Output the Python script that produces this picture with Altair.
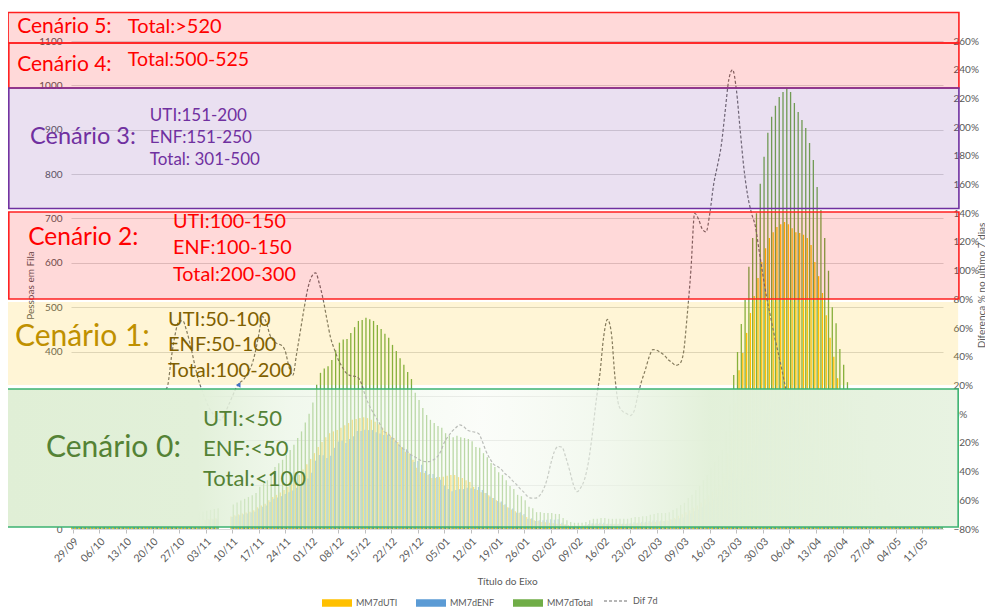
import json
import altair as alt
import pandas as pd

# ---------------- data ----------------
N_DAYS = 230  # 29/09/2020 .. 16/05/2021, one category per day

week_labels = ['29/09', '06/10', '13/10', '20/10', '27/10', '03/11', '10/11', '17/11',
               '24/11', '01/12', '08/12', '15/12', '22/12', '29/12', '05/01', '12/01',
               '19/01', '26/01', '02/02', '09/02', '16/02', '23/02', '02/03', '09/03',
               '16/03', '23/03', '30/03', '06/04', '13/04', '20/04', '27/04', '04/05', '11/05']
week_ticks = [7 * i for i in range(len(week_labels))]

N = None
mm7d_total = [
    12, 12, 13, 13, 14, 14, 15, 15, 16, 16,
    17, 17, 18, 18, 19, 19, 20, 21, 21, 22,
    22, 23, 24, 25, 26, 27, 28, 29, 30, 31,
    32, 34, 35, 37, 39, 41, 43, 45, 47, N,
    N, N, 55, 60, 64, 68, 72, 76, 81, 95,
    103, 110, 126, 140, 148, 156, 167, 178, 190, 205,
    220, 240, 260, 285, 325, 352, 362, 367, 381, 403,
    420, 427, 428, 442, 455, 469, 471, 476, 473, 469,
    460, 451, 440, 431, 415, 401, 385, 370, 354, 338,
    307, 291, 273, 257, 246, 239, 232, 228, 216, 210,
    207, 210, 207, 205, 203, 198, 185, 183, 171, 162,
    149, 140, 128, 122, 110, 97, 90, 77, 74, 65,
    50, 47, 38, 38, 36, 36, 36, 34, 34, 25,
    20, 16, 14, 14, 14, 16, 20, 23, 23, 25,
    25, 23, 23, 23, 23, 23, 23, 25, 27, 27,
    29, 29, 32, 34, 36, 36, 36, 38, 43, 47,
    54, 59, 70, 77, 88, 97, 110, 122, 138, 151,
    165, 178, 220, 280, 347, 399, 462, 516, 591, 656,
    712, 778, 839, 893, 929, 954, 974, 985, 994, 985,
    960, 940, 922, 904, 870, 832, 771, 719, 656, 582,
    500, 464, 406, 370, 331, 290, 255, 220, 190, 160,
    135, 112, 95, 80, 68, 58, 50, 44, 38, 34,
    30, 27, 24, 22, 20, 18, 17, 16, 15, 14]

mm7d_uti = [
    6, 6, 7, 7, 7, 7, 8, 8, 8, 8,
    9, 9, 9, 9, 10, 10, 10, 11, 11, 11,
    11, 12, 12, 13, 13, 14, 14, 15, 15, 16,
    16, 17, 18, 19, 20, 21, 22, 23, 24, N,
    N, N, 28, 31, 33, 35, 37, 39, 42, 49,
    53, 57, 65, 72, 77, 82, 88, 95, 103, 112,
    122, 134, 146, 158, 171, 185, 196, 207, 216, 220,
    223, 228, 234, 239, 246, 248, 250, 252, 250, 246,
    242, 236, 228, 219, 210, 205, 196, 185, 174, 171,
    156, 138, 128, 126, 122, 115, 115, 117, 118, 120,
    122, 122, 117, 115, 110, 106, 95, 88, 83, 81,
    76, 70, 65, 60, 54, 49, 44, 40, 36, 31,
    27, 23, 20, 18, 16, 15, 14, 13, 12, 11,
    10, 9, 8, 8, 8, 8, 9, 10, 10, 11,
    11, 11, 11, 11, 11, 11, 11, 12, 12, 13,
    13, 13, 14, 15, 16, 17, 18, 20, 22, 25,
    30, 33, 38, 42, 48, 53, 60, 67, 76, 84,
    92, 100, 125, 170, 220, 285, 358, 397, 442, 487,
    525, 566, 602, 633, 656, 669, 681, 687, 692, 687,
    678, 669, 667, 663, 656, 640, 602, 570, 532, 482,
    431, 388, 340, 300, 265, 232, 200, 172, 148, 125,
    105, 88, 74, 62, 52, 44, 38, 33, 28, 25,
    22, 19, 17, 15, 14, 12, 11, 10, 10, 9]

mm7d_enf = [
    6, 6, 6, 6, 7, 7, 7, 7, 8, 8,
    8, 8, 9, 9, 9, 9, 10, 10, 10, 11,
    11, 11, 12, 12, 13, 13, 14, 14, 15, 15,
    16, 17, 17, 18, 19, 20, 21, 22, 23, N,
    N, N, 27, 29, 31, 33, 35, 37, 39, 46,
    50, 53, 61, 68, 71, 74, 79, 83, 87, 93,
    98, 106, 114, 127, 154, 167, 166, 160, 165, 183,
    197, 199, 194, 203, 209, 221, 221, 224, 223, 223,
    218, 215, 212, 212, 205, 196, 189, 185, 180, 167,
    151, 153, 145, 131, 124, 124, 117, 111, 98, 90,
    85, 88, 90, 90, 93, 92, 90, 95, 88, 81,
    73, 70, 63, 62, 56, 48, 46, 37, 38, 34,
    23, 24, 18, 20, 20, 21, 22, 21, 22, 14,
    10, 7, 6, 6, 6, 8, 11, 13, 13, 14,
    14, 12, 12, 12, 12, 12, 12, 13, 15, 14,
    16, 16, 18, 19, 20, 19, 18, 18, 21, 22,
    24, 26, 32, 35, 40, 44, 50, 55, 62, 67,
    73, 78, 95, 110, 127, 114, 104, 119, 149, 169,
    187, 212, 237, 260, 273, 285, 293, 298, 302, 298,
    282, 271, 255, 241, 214, 192, 169, 149, 124, 100,
    69, 76, 66, 70, 66, 58, 55, 48, 42, 35,
    30, 24, 21, 18, 16, 14, 12, 11, 10, 9,
    8, 8, 7, 7, 6, 6, 6, 6, 5, 5]

dif7d_first_day = 22
dif7d_pct = [
    5, 10, 15, 20, 40, 56, 65, 65, 58, 48,            # 22-31
    36, 25, 17, 10, 4, 0, -3, -4, 0, 6,               # 32-41
    12, 18, 22, 24, 28, 33, 42, 55, 68, 64,           # 42-51
    55, 51, 49, 48, 44, 33, 27, 42, 58, 74,           # 52-61
    88, 96, 98.5, 91, 80, 66, 53, 45, 38, 33,         # 62-71
    29, 27, 26.5, 26, 22, 14, 7, 2, -2.5, -7,         # 72-81
    -12, -13.5, -16, -18.5, -21.5, -24, -25.5, -28, -29.5, -31,   # 82-91
    -32.5, -33, -33, -32, -30, -26, -19.5, -15.5, -12, -9.5,      # 92-101
    -7.5, -8.5, -11, -12, -12.5, -13.5, -19, -26, -31, -35,       # 102-111
    -36.5, -38.5, -41.5, -43.5, -46.5, -49, -52, -54.5, -57.5, -58.5,  # 112-121
    -58.5, -57, -53, -46, -35, -26, -22.5, -23, -30, -39,        # 122-131
    -49, -54, -51, -45, -33, -14, 9, 28, 54, 66,                 # 132-141
    57, 25, 6, 2, 0.5, -1, 2, 13, 23, 31,                        # 142-151
    40, 45, 44.5, 43, 41, 38, 36, 34, 35, 42,                    # 152-161
    68, 100, 140, 136, 129, 127, 140, 160, 173, 187,             # 162-171
    210, 233, 240, 226, 198, 171, 152, 140, 131, 114,            # 172-181
    97, 81, 68, 55, 43, 31, 18, 6, -5, -15,                      # 182-191
    -25]                                                          # 192

series_names = ['MM7dUTI', 'MM7dENF', 'MM7dTotal']
series_colors = ['#FFC000', '#5B9BD5', '#70AD47']
line_name = 'Dif 7d'

# scenario boxes: x in day units, y in "Pessoas em Fila" units
box_names = ['Cenário 5', 'Cenário 4', 'Cenário 3', 'Cenário 2', 'Cenário 1']
box_x1 = [-17.1, -16.9, -16.9, -16.9, -17.4]
box_x2 = [233.7, 233.7, 233.7, 233.7, 233.5]
box_y1 = [1095.5, 994.1, 722.4, 518.4, 324.6]
box_y2 = [1164.2, 1095.5, 994.1, 714.5, 511.7]
box_fill = ['#FF0000', '#FF0000', '#7030A0', '#FF0000', '#FFC000']
box_fill_opacity = [0.15, 0.15, 0.15, 0.15, 0.16]
box_stroke = ['#FF2020', '#FF2020', '#7030A0', '#FF2020', 'transparent']
box0_x = [-17.4, 233.5]
box0_y = [4.5, 315.6]

# small blue arrowhead left on the chart (day, people)
arrow_day = [43.6]
arrow_val = [324.6]

ann_text = ['Cenário 5:', 'Total:>520', 'Cenário 4:', 'Total:500-525',
            'Cenário 3:', 'UTI:151-200', 'ENF:151-250', 'Total: 301-500',
            'Cenário 2:', 'UTI:100-150', 'ENF:100-150', 'Total:200-300',
            'Cenário 1:', 'UTI:50-100', 'ENF:50-100', 'Total:100-200',
            'Cenário 0:', 'UTI:<50', 'ENF:<50', 'Total:<100']
ann_day = [-14.7, 14.5, -14.7, 14.5,
           -11.3, 20.3, 20.3, 20.3,
           -11.8, 26.4, 26.4, 26.4,
           -15.3, 25.1, 25.1, 25.1,
           -7.1, 34.3, 34.3, 34.3]
ann_val = [1131.6, 1131.6, 1047, 1057,
           883.6, 931, 881.3, 831.8,
           656, 692, 633.4, 572.5,
           432.8, 471, 414.8, 356.1,
           182.6, 248, 180.3, 112.7]
ann_size = [21, 20, 21, 19.5,
            23.5, 17, 17, 17,
            24.5, 19.8, 19.8, 19.8,
            30, 20, 20, 20,
            30, 22, 22, 22]
ann_color = ['#FF0000', '#FF0000', '#FF0000', '#FF0000',
             '#7030A0', '#7030A0', '#7030A0', '#7030A0',
             '#FF0000', '#FF0000', '#FF0000', '#FF0000',
             '#BF9000', '#7F6000', '#7F6000', '#7F6000',
             '#548235', '#548235', '#548235', '#548235']

# ---------------- tables ----------------
rows = []
for name, vals in zip(series_names, [mm7d_uti, mm7d_enf, mm7d_total]):
    for d, v in enumerate(vals):
        rows.append({'day': d, 'serie': name, 'value': v})
bars_df = pd.DataFrame(rows)

line_df = pd.DataFrame({
    'day': list(range(dif7d_first_day, dif7d_first_day + len(dif7d_pct))),
    'dif': [p / 100 for p in dif7d_pct],
    'serie': line_name,
})

boxes_df = pd.DataFrame({'name': box_names, 'x1': box_x1, 'x2': box_x2,
                         'y1': box_y1, 'y2': box_y2, 'fill': box_fill,
                         'fop': box_fill_opacity, 'stroke': box_stroke})
box0_df = pd.DataFrame({'x1': [box0_x[0]], 'x2': [box0_x[1]],
                        'y1': [box0_y[0]], 'y2': [box0_y[1]]})
arrow_df = pd.DataFrame({'day': arrow_day, 'val': arrow_val})
ann_df = pd.DataFrame({'text': ann_text, 'day': ann_day, 'val': ann_val,
                       'size': ann_size, 'color': ann_color})

# ---------------- chart ----------------
FONT = 'Lato'
GREY = '#595959'
x_scale = alt.Scale(domain=[-0.5, N_DAYS - 0.5], nice=False, zero=False, padding=0)
y_left = alt.Scale(domain=[0, 1100], nice=False)
label_expr = json.dumps(week_labels) + '[round(datum.value / 7)]'
x_axis = alt.Axis(values=week_ticks, labelExpr=label_expr, labelAngle=-45,
                  labelOverlap=False, labelFontSize=10.5, title='Título do Eixo',
                  grid=False, tickSize=4, tickColor='#BFBFBF', domainColor='#D9D9D9',
                  labelPadding=3, titlePadding=12, zindex=0)

bars = alt.Chart(bars_df).transform_calculate(
    pos="datum.day + (datum.serie == 'MM7dUTI' ? -0.3 : (datum.serie == 'MM7dTotal' ? 0.3 : 0))"
).mark_bar(size=1.3).encode(
    x=alt.X('pos:Q', scale=x_scale, axis=x_axis),
    y=alt.Y('value:Q', scale=y_left,
            axis=alt.Axis(orient='left', values=list(range(0, 1101, 100)), format='d',
                          title='Pessoas em Fila', grid=True, gridColor='#D9D9D9',
                          domain=False, ticks=False, labelPadding=9, titlePadding=3,
                          zindex=0)),
    color=alt.Color('serie:N',
                    scale=alt.Scale(domain=series_names, range=series_colors),
                    sort=series_names,
                    legend=alt.Legend(orient='none', legendX=251, legendY=547,
                                      direction='horizontal', title=None,
                                      symbolType='M-1,-0.25H1V0.25H-1Z', symbolSize=900,
                                      symbolStrokeWidth=0, columnPadding=18,
                                      labelOffset=4)),
    order=alt.Order('serie:N'),
)

line = alt.Chart(line_df).mark_line(
    color='#6E6E6E', strokeWidth=1.2, interpolate='monotone'
).encode(
    x=alt.X('day:Q', scale=x_scale, axis=x_axis),
    y=alt.Y('dif:Q', scale=alt.Scale(domain=[-0.8, 2.6], nice=False),
            axis=alt.Axis(orient='right', format='.0%',
                          values=[round(-0.8 + 0.2 * i, 1) for i in range(18)],
                          title='Diferença % no ultimo 7 dias', titleAngle=270,
                          grid=False, domain=False, ticks=False, labelPadding=10,
                          titlePadding=8, zindex=0)),
    strokeDash=alt.StrokeDash('serie:N',
                              scale=alt.Scale(domain=[line_name], range=[[3, 2]]),
                              legend=alt.Legend(orient='none', legendX=532, legendY=547,
                                                title=None, symbolType='M-1,0H1',
                                                symbolSize=576, symbolStrokeColor='#6E6E6E',
                                                symbolStrokeWidth=1.2, labelOffset=4)),
)

arrow = alt.Chart(arrow_df).mark_point(
    shape='triangle-left', filled=True, size=28, color='#4472C4', opacity=1
).encode(
    x=alt.X('day:Q', scale=x_scale, axis=x_axis),
    y=alt.Y('val:Q', scale=y_left, axis=None),
)

boxes = alt.Chart(boxes_df).mark_rect(strokeWidth=1.6).encode(
    x=alt.X('x1:Q', scale=x_scale, axis=x_axis),
    x2='x2:Q',
    y=alt.Y('y1:Q', scale=y_left, axis=None),
    y2='y2:Q',
    fill=alt.Fill('fill:N', scale=None),
    fillOpacity=alt.FillOpacity('fop:Q', scale=None),
    stroke=alt.Stroke('stroke:N', scale=None),
)

green_fill = alt.LinearGradient(
    gradient='linear', x1=0, x2=1, y1=0, y2=0,
    stops=[alt.GradientStop(color='rgba(224,239,214,1)', offset=0),
           alt.GradientStop(color='rgba(226,240,217,1)', offset=0.2),
           alt.GradientStop(color='rgba(232,244,226,0.62)', offset=0.3),
           alt.GradientStop(color='rgba(247,251,244,0.55)', offset=0.5),
           alt.GradientStop(color='rgba(238,246,233,0.8)', offset=0.63),
           alt.GradientStop(color='rgba(226,240,217,0.99)', offset=0.74),
           alt.GradientStop(color='rgba(232,243,226,1)', offset=1)])

box0 = alt.Chart(box0_df).mark_rect(fill=green_fill, stroke='#3CB371', strokeWidth=1.6).encode(
    x=alt.X('x1:Q', scale=x_scale, axis=x_axis),
    x2='x2:Q',
    y=alt.Y('y1:Q', scale=y_left, axis=None),
    y2='y2:Q',
)

texts = alt.Chart(ann_df).mark_text(align='left', baseline='middle', font=FONT).encode(
    x=alt.X('day:Q', scale=x_scale, axis=x_axis),
    y=alt.Y('val:Q', scale=y_left, axis=None),
    text='text:N',
    size=alt.Size('size:Q', scale=None),
    color=alt.Color('color:N', scale=None),
)

chart = alt.layer(bars, line, boxes, arrow, box0, texts).resolve_scale(
    y='independent', color='independent'
).properties(
    width=872, height=488,
    padding={'left': 63, 'top': 33, 'right': 42, 'bottom': 78},
    autosize=alt.AutoSizeParams(type='none'),
).configure_view(stroke=None).configure_axis(
    labelFont=FONT, titleFont=FONT, labelColor=GREY, titleColor=GREY,
    labelFontSize=10, titleFontSize=10, titleFontWeight='normal'
).configure_legend(
    labelFont=FONT, labelFontSize=9, labelColor=GREY
)

chart.save('out.html', embed_options={'renderer': 'svg', 'actions': False})
